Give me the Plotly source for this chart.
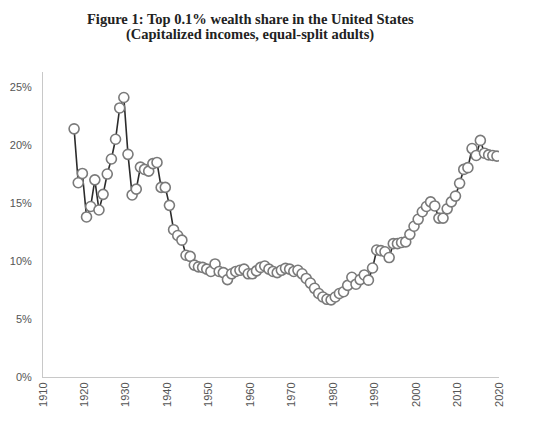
import plotly.graph_objects as go

# Top 0.1% wealth share (percent)
years = list(range(1917, 2020))
share = [
    21.4, 16.75, 17.55, 13.8, 14.7, 17.0, 14.4, 15.75, 17.5, 18.8,   # 1917-1926
    20.5, 23.2, 24.1, 19.2, 15.7, 16.2, 18.1, 17.9, 17.75, 18.4,     # 1927-1936
    18.5, 16.35, 16.35, 14.8, 12.7, 12.2, 11.8, 10.5, 10.4, 9.65,    # 1937-1946
    9.5, 9.45, 9.3, 9.1, 9.75, 9.1, 9.0, 8.4, 8.9, 9.1,              # 1947-1956
    9.2, 9.3, 8.9, 8.9, 9.15, 9.45, 9.57, 9.3, 9.1, 9.0,             # 1957-1966
    9.2, 9.37, 9.3, 9.1, 9.2, 8.9, 8.5, 8.1, 7.65, 7.2,              # 1967-1976
    6.9, 6.7, 6.65, 6.9, 7.2, 7.35, 7.9, 8.6, 8.0, 8.4,              # 1977-1986
    8.8, 8.35, 9.4, 10.95, 10.9, 10.8, 10.3, 11.5, 11.5, 11.6,       # 1987-1996
    11.65, 12.3, 13.0, 13.6, 14.25, 14.7, 15.1, 14.75, 13.7, 13.7,   # 1997-2006
    14.5, 15.1, 15.6, 16.7, 17.9, 18.05, 19.7, 19.1, 20.4, 19.3,     # 2007-2016
    19.15, 19.1, 19.05,                                              # 2017-2019
]
assert len(years) == len(share)

y_ticks = [0, 5, 10, 15, 20, 25]
y_tick_labels = ["0%", "5%", "10%", "15%", "20%", "25%"]
x_ticks = list(range(1910, 2030, 10))

title_lines = [
    "Figure 1: Top 0.1% wealth share in the United States",
    "(Capitalized incomes, equal-split adults)",
]

# points sit mid-year on the axis
x_pos = [y + 0.5 for y in years]

W, H = 543, 426
PAD = 8  # page body margin around the plot div

fig = go.Figure()
fig.add_trace(go.Scatter(
    x=x_pos,
    y=share,
    mode="lines+markers",
    line=dict(color="#2b2b2b", width=1.6),
    marker=dict(symbol="circle", size=10, color="white",
                line=dict(color="#7a7a7a", width=1.6)),
    showlegend=False,
    hoverinfo="skip",
))

# two title lines, set as annotations to control the line spacing
for i, line in enumerate(title_lines):
    fig.add_annotation(
        text=f"<b>{line}</b>",
        xref="paper", yref="paper",
        x=(250 - 43) / 456, xanchor="center",
        y=1 + (72 - 19 - 16 * i) / 305, yanchor="middle",
        showarrow=False,
        font=dict(family="Liberation Serif", size=14.5, color="#222222"),
    )

fig.update_layout(
    width=W,
    height=H,
    paper_bgcolor="white",
    plot_bgcolor="white",
    margin=dict(l=43 - PAD, r=44 + PAD, t=72 - PAD, b=49 + PAD),
    font=dict(family="Liberation Sans", size=11, color="#555555"),
)

fig.update_xaxes(
    range=[1910, 2020],
    tickvals=x_ticks,
    tickangle=-90,
    automargin=False,
    showgrid=False,
    zeroline=False,
    showline=True,
    linecolor="#c8c8c8",
    linewidth=1,
    ticks="",
    tickfont=dict(size=11, color="#555555"),
)
fig.update_yaxes(
    range=[0, 26.3],
    tickvals=y_ticks,
    ticktext=y_tick_labels,
    automargin=False,
    showgrid=False,
    zeroline=False,
    showline=True,
    linecolor="#c8c8c8",
    linewidth=1,
    ticks="",
    ticklabelstandoff=8,
    tickfont=dict(size=11, color="#555555"),
)

fig.write_html("out.html")
